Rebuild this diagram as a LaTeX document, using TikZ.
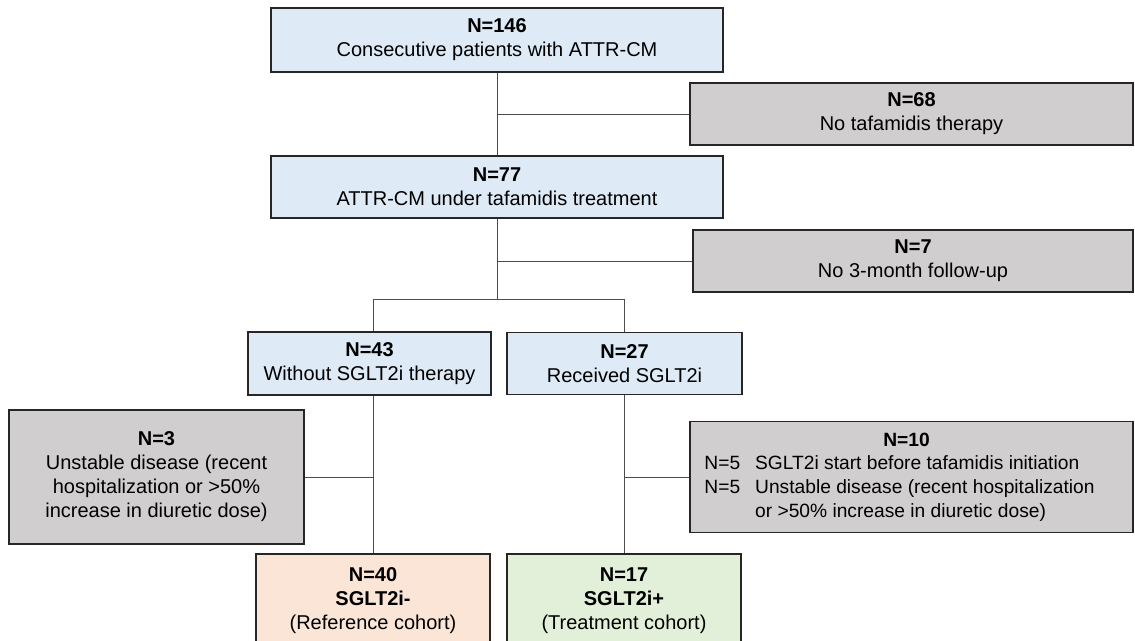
\documentclass[tikz,border=0pt]{standalone}
\usepackage{fontspec}
\setmainfont{Liberation Sans}
\definecolor{boxblue}{HTML}{DEEAF6}
\definecolor{boxgray}{HTML}{D0CECE}
\definecolor{boxpeach}{HTML}{FBE5D6}
\definecolor{boxgreen}{HTML}{E2F0D9}
\definecolor{edgecol}{HTML}{262626}
\definecolor{linecol}{HTML}{4D4D4D}
\begin{document}
\begin{tikzpicture}[x=1pt,y=-1pt,
  box/.style={draw=edgecol, line width=1.4pt, align=center, inner sep=0pt,
    font=\fontsize{20}{24}\selectfont},
  bluebox/.style={box, fill=boxblue},
  graybox/.style={box, fill=boxgray},
  peachbox/.style={box, fill=boxpeach},
  greenbox/.style={box, fill=boxgreen},
  conn/.style={draw=linecol, line width=0.9pt}]
\clip (0,0) rectangle (1135,640);
\fill[white] (0,0) rectangle (1135,640);

\node[bluebox, minimum width=452pt, minimum height=64pt] (b1) at (497,40)
  {\textbf{N=146}\\Consecutive patients with ATTR-CM};
\node[graybox, minimum width=443pt, minimum height=62pt] (g1) at (911.5,114)
  {\textbf{N=68}\\No tafamidis therapy};
\node[bluebox, minimum width=452pt, minimum height=62pt] (b2) at (497,187)
  {\textbf{N=77}\\ATTR-CM under tafamidis treatment};
\node[graybox, minimum width=440pt, minimum height=62pt] (g2) at (913,261)
  {\textbf{N=7}\\No 3-month follow-up};
\node[bluebox, minimum width=243pt, minimum height=63pt] (b3) at (369.5,363.5)
  {\textbf{N=43}\\Without SGLT2i therapy};
\node[bluebox, minimum width=235pt, minimum height=62pt] (b4) at (624.5,363.5)
  {\textbf{N=27}\\Received SGLT2i};
\node[graybox, minimum width=295pt, minimum height=134pt] (g3) at (156.5,477)
  {\textbf{N=3}\\Unstable disease (recent\\hospitalization or >50\%\\increase in diuretic dose)};
\node[graybox, minimum width=443pt, minimum height=111pt] (g4) at (911.5,477)
  {\fontsize{19.2}{23.6}\selectfont
   \begin{tabular}{@{}l@{\hspace{15pt}}l@{}}
   \multicolumn{2}{c}{\hspace{14pt}\textbf{N=10}}\\
   N=5 & SGLT2i start before tafamidis initiation\\
   N=5 & Unstable disease (recent hospitalization\\
       & or >50\% increase in diuretic dose)
   \end{tabular}\hspace{24pt}};
\node[peachbox, minimum width=234pt, minimum height=94pt] (b5) at (373,601)
  {\textbf{N=40}\\\textbf{SGLT2i-}\\(Reference cohort)};
\node[greenbox, minimum width=234pt, minimum height=94pt] (b6) at (624,601)
  {\textbf{N=17}\\\textbf{SGLT2i+}\\(Treatment cohort)};

\coordinate (split) at (497,299);

\draw[conn] (b1.south) -- (b2.north);
\draw[conn] (b1.south |- g1.west) -- (g1.west);
\draw[conn] (b2.south) -- (split);
\draw[conn] (b2.south |- g2.west) -- (g2.west);
\draw[conn] (b5.north |- split) -- (b6.north |- split);
\draw[conn] (b5.north |- split) -- (b5.north |- b3.north);
\draw[conn] (b6.north |- split) -- (b6.north |- b4.north);
\draw[conn] (b5.north |- b3.south) -- (b5.north);
\draw[conn] (b6.north |- b4.south) -- (b6.north);
\draw[conn] (g3.east) -- (b5.north |- g3.east);
\draw[conn] (b6.north |- g4.west) -- (g4.west);
\end{tikzpicture}
\end{document}
